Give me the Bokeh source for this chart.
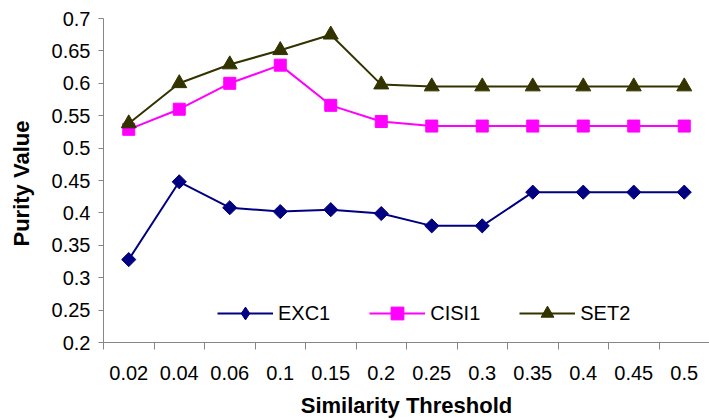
import math

from bokeh.embed import file_html
from bokeh.models import FixedTicker, Legend, LegendItem, Range1d
from bokeh.plotting import figure
from bokeh.resources import INLINE

# Purity of the clustering for each similarity threshold
thresholds = ["0.02", "0.04", "0.06", "0.1", "0.15", "0.2",
              "0.25", "0.3", "0.35", "0.4", "0.45", "0.5"]
exc1 = [0.328, 0.448, 0.408, 0.402, 0.405, 0.399,
        0.380, 0.380, 0.432, 0.432, 0.432, 0.432]
cisi1 = [0.529, 0.560, 0.600, 0.628, 0.566, 0.541,
         0.534, 0.534, 0.534, 0.534, 0.534, 0.534]
set2 = [0.538, 0.600, 0.629, 0.651, 0.675, 0.598,
        0.595, 0.595, 0.595, 0.595, 0.595, 0.595]

y_ticks = [0.2, 0.25, 0.3, 0.35, 0.4, 0.45, 0.5, 0.55, 0.6, 0.65, 0.7]
y_tick_labels = ["0.2", "0.25", "0.3", "0.35", "0.4", "0.45",
                 "0.5", "0.55", "0.6", "0.65", "0.7"]

FONT = "Liberation Sans"
AXIS_GREY = "#868686"

n = len(thresholds)
centers = [i + 0.5 for i in range(n)]        # category centres
boundaries = [float(i) for i in range(n + 1)]  # category edges (tick marks)

p = figure(
    width=709, height=420,
    x_range=Range1d(0, n), y_range=Range1d(y_ticks[0], y_ticks[-1]),
    output_backend="svg", toolbar_location=None,
    min_border_left=103, min_border_right=0,
    min_border_top=18, min_border_bottom=77,
)
p.outline_line_color = None
p.xgrid.visible = False
p.ygrid.visible = False
p.background_fill_color = "white"
p.border_fill_color = "white"

# x axis: labels at category centres, tick marks between categories
xa = p.xaxis[0]
xa.ticker = FixedTicker(ticks=centers, minor_ticks=boundaries)
xa.major_label_overrides = {c: t for c, t in zip(centers, thresholds)}
xa.major_tick_in = 0
xa.major_tick_out = 0
xa.minor_tick_in = 0
xa.minor_tick_out = 7
xa.minor_tick_line_color = AXIS_GREY
xa.axis_line_color = AXIS_GREY
xa.major_label_text_font = FONT
xa.major_label_text_font_size = "20px"
xa.major_label_text_color = "black"
xa.major_label_standoff = 16
xa.axis_label = "Similarity Threshold"
xa.axis_label_text_font = FONT
xa.axis_label_text_font_size = "22px"
xa.axis_label_text_font_style = "bold"
xa.axis_label_text_color = "black"
xa.axis_label_standoff = 10

ya = p.yaxis[0]
ya.ticker = FixedTicker(ticks=y_ticks)
ya.major_label_overrides = {v: t for v, t in zip(y_ticks, y_tick_labels)}
ya.major_tick_in = 0
ya.major_tick_out = 5
ya.major_tick_line_color = AXIS_GREY
ya.minor_tick_line_color = None
ya.axis_line_color = AXIS_GREY
ya.major_label_text_font = FONT
ya.major_label_text_font_size = "20px"
ya.major_label_text_color = "black"
ya.major_label_standoff = 8
ya.axis_label = "Purity  Value"
ya.axis_label_text_font = FONT
ya.axis_label_text_font_size = "22px"
ya.axis_label_text_font_style = "bold"
ya.axis_label_text_color = "black"
ya.axis_label_standoff = 15

C_EXC, C_CISI, C_SET = "#000080", "#FF00FF", "#333300"

# EXC1: diamonds (squares turned by 45 degrees); a diamond marker sits
# underneath each one and supplies the legend swatch
l1 = p.line(centers, exc1, line_color=C_EXC, line_width=2)
k1 = p.scatter(centers, exc1, marker="diamond", size=10.5,
               fill_color=C_EXC, line_color=C_EXC)
m1 = p.scatter(centers, exc1, marker="square", angle=math.pi / 4, size=10,
               fill_color=C_EXC, line_color=C_EXC)

# CISI1: squares
l2 = p.line(centers, cisi1, line_color=C_CISI, line_width=2)
m2 = p.scatter(centers, cisi1, marker="square", size=12,
               fill_color=C_CISI, line_color=C_CISI)

# SET2: triangles
l3 = p.line(centers, set2, line_color=C_SET, line_width=2)
m3 = p.scatter(centers, set2, marker="triangle", size=15,
               fill_color=C_SET, line_color=C_SET)

legend = Legend(
    items=[
        LegendItem(label="EXC1", renderers=[l1, k1]),
        LegendItem(label="CISI1", renderers=[l2, m2]),
        LegendItem(label="SET2", renderers=[l3, m3]),
    ],
    orientation="horizontal",
    location=(114, 13),
    glyph_width=56, glyph_height=32,
    label_standoff=5, spacing=39,
    padding=0, margin=0,
    border_line_color=None, background_fill_alpha=0,
    label_text_font=FONT, label_text_font_size="20px",
    label_text_color="black", label_height=32,
)
p.add_layout(legend)

open("out.html", "w").write(file_html(p, INLINE))
